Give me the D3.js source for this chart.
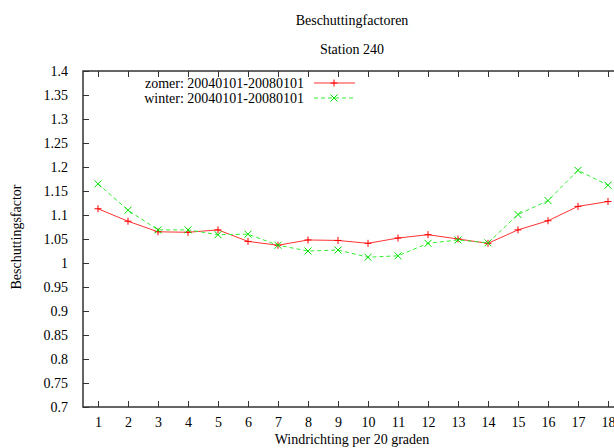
<!DOCTYPE html>
<html>
<head>
<meta charset="utf-8">
<script src="https://cdn.jsdelivr.net/npm/d3@7"></script>
<style>
  body { margin: 0; background: #fff; }
  svg { display: block; }
  text { font-family: "Liberation Serif", "DejaVu Serif", serif; fill: #000; }
</style>
</head>
<body>
<div id="chart"></div>
<script>
// windrichting per 20 graden
var directions = d3.range(1, 19);
var zomer = [1.113, 1.087, 1.065, 1.064, 1.069, 1.045, 1.037, 1.048, 1.047,
             1.041, 1.052, 1.059, 1.050, 1.041, 1.069, 1.088, 1.118, 1.128];
var winter = [1.165, 1.110, 1.069, 1.069, 1.059, 1.060, 1.037, 1.025, 1.027,
              1.012, 1.015, 1.041, 1.048, 1.042, 1.101, 1.130, 1.193, 1.162];
var yTicks = d3.range(0.7, 1.4001, 0.05);
var seriesNames = ['zomer: 20040101-20080101', 'winter: 20040101-20080101'];

var width = 614, height = 448;
var padding = {top: 71, right: -9, bottom: 41, left: 83};

var svg = d3.select('#chart').append('svg')
    .attr('width', width)
    .attr('height', height);

var xScale = d3.scaleLinear()
    .domain([0.5, 18.5])
    .range([padding.left, width - padding.right]);
var yScale = d3.scaleLinear()
    .domain([0.7, 1.4])
    .range([height - padding.bottom, padding.top]);

// titels
svg.append('text').attr('x', 352).attr('y', 25)
    .attr('text-anchor', 'middle').attr('font-size', 14)
    .text('Beschuttingfactoren');
svg.append('text').attr('x', 352).attr('y', 54)
    .attr('text-anchor', 'middle').attr('font-size', 14)
    .text('Station 240');

// assen (ticks naar binnen, zoals gnuplot)
var axisColor = '#333';
svg.append('g')
    .attr('transform', `translate(0,${yScale(0.7)})`)
    .call(d3.axisBottom(xScale).tickValues(directions).tickSize(-6).tickPadding(10).tickFormat(d3.format('d')))
    .call(g => g.select('.domain').remove());
svg.append('g')
    .attr('transform', `translate(0,${yScale(1.4)})`)
    .call(d3.axisTop(xScale).tickValues(directions).tickSize(-6).tickFormat(''))
    .call(g => g.select('.domain').remove());
svg.append('g')
    .attr('transform', `translate(${padding.left},0)`)
    .call(d3.axisLeft(yScale).tickValues(yTicks).tickSize(-6).tickPadding(15).tickFormat(d => +d.toFixed(2)))
    .call(g => g.select('.domain').remove());

svg.selectAll('.tick line').attr('stroke', axisColor).attr('stroke-width', 1);
svg.selectAll('.tick text').attr('font-size', 14)
    .attr('font-family', '"Liberation Serif", serif').attr('fill', '#000');

// rand van het plotgebied
svg.append('path')
    .attr('d', `M${width + 5},${yScale(1.4)}H${padding.left}V${yScale(0.7)}H${width + 5}`)
    .attr('fill', 'none').attr('stroke', axisColor).attr('stroke-width', 1.5);

// aslabels
svg.append('text')
    .attr('x', 352).attr('y', 444)
    .attr('text-anchor', 'middle').attr('font-size', 14)
    .text('Windrichting per 20 graden');
svg.append('text')
    .attr('transform', 'translate(21,237) rotate(-90)')
    .attr('text-anchor', 'middle').attr('font-size', 14)
    .text('Beschuttingsfactor');

var line = d3.line()
    .x((d, i) => xScale(directions[i]))
    .y(d => yScale(d));

function plus(g, x, y) {
    g.append('path').attr('d', `M${x - 3.5},${y}H${x + 3.5}M${x},${y - 3.5}V${y + 3.5}`)
        .attr('stroke', '#f00').attr('stroke-width', 1);
}
function cross(g, x, y) {
    g.append('path').attr('d', `M${x - 3.5},${y - 3.5}L${x + 3.5},${y + 3.5}M${x - 3.5},${y + 3.5}L${x + 3.5},${y - 3.5}`)
        .attr('stroke', '#0d0').attr('stroke-width', 1);
}

// zomer
var gz = svg.append('g');
gz.append('path').attr('d', line(zomer))
    .attr('fill', 'none').attr('stroke', '#f33').attr('stroke-width', 1);
zomer.forEach((v, i) => plus(gz, xScale(directions[i]), yScale(v)));

// winter
var gw = svg.append('g');
gw.append('path').attr('d', line(winter))
    .attr('fill', 'none').attr('stroke', '#3e3').attr('stroke-width', 1)
    .attr('stroke-dasharray', '4,3');
winter.forEach((v, i) => cross(gw, xScale(directions[i]), yScale(v)));

// legenda
var leg = svg.append('g');
[83, 98].forEach((y, i) => {
    leg.append('text').attr('x', 304).attr('y', y + 5)
        .attr('text-anchor', 'end').attr('font-size', 14)
        .text(seriesNames[i]);
    leg.append('path').attr('d', `M314,${y}H355`)
        .attr('fill', 'none')
        .attr('stroke', i === 0 ? '#f33' : '#3e3')
        .attr('stroke-dasharray', i === 0 ? null : '4,3');
    if (i === 0) plus(leg, 334, y); else cross(leg, 334, y);
});
</script>
</body>
</html>
